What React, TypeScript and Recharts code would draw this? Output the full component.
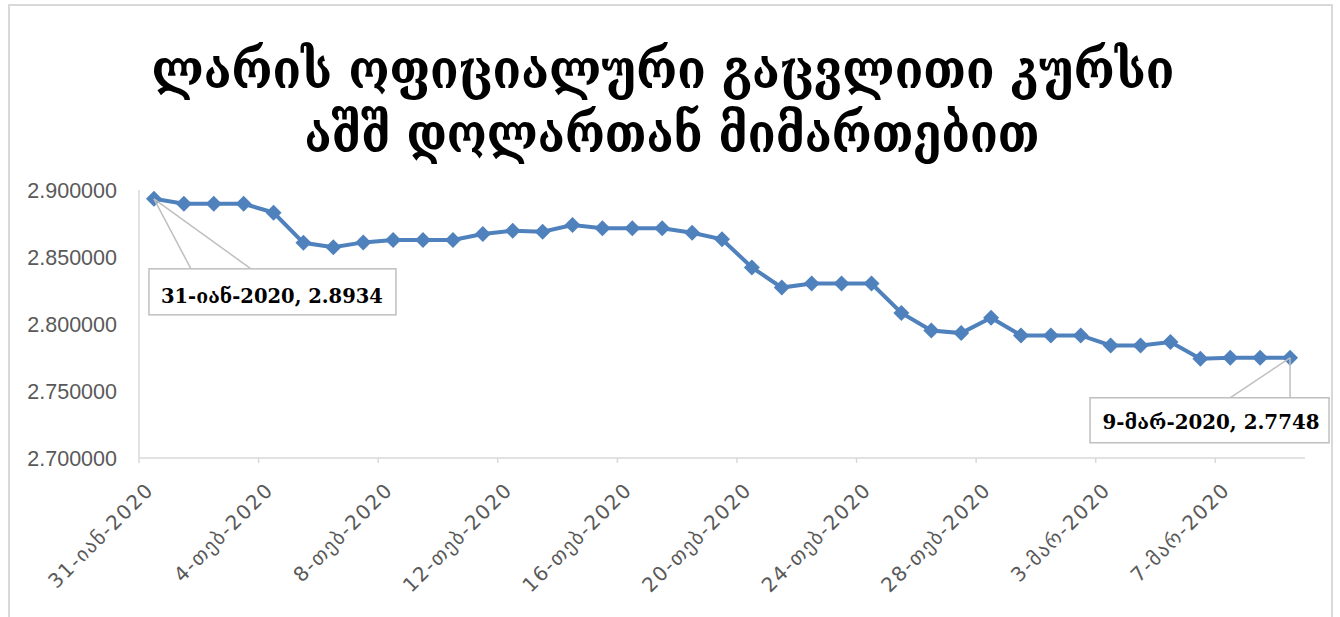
import { LineChart, Line, XAxis, YAxis, LabelList } from "recharts";

const DATES = [
  "31-იან-2020",
  "1-თებ-2020", "2-თებ-2020", "3-თებ-2020", "4-თებ-2020", "5-თებ-2020",
  "6-თებ-2020", "7-თებ-2020", "8-თებ-2020", "9-თებ-2020", "10-თებ-2020",
  "11-თებ-2020", "12-თებ-2020", "13-თებ-2020", "14-თებ-2020", "15-თებ-2020",
  "16-თებ-2020", "17-თებ-2020", "18-თებ-2020", "19-თებ-2020", "20-თებ-2020",
  "21-თებ-2020", "22-თებ-2020", "23-თებ-2020", "24-თებ-2020", "25-თებ-2020",
  "26-თებ-2020", "27-თებ-2020", "28-თებ-2020", "29-თებ-2020",
  "1-მარ-2020", "2-მარ-2020", "3-მარ-2020", "4-მარ-2020", "5-მარ-2020",
  "6-მარ-2020", "7-მარ-2020", "8-მარ-2020", "9-მარ-2020",
];

const RATES = [
  2.8934,
  2.8897, 2.8897, 2.8897, 2.8831, 2.8606,
  2.8573, 2.8609, 2.8627, 2.8627, 2.8627,
  2.8672, 2.8696, 2.8689, 2.8739, 2.8714,
  2.8714, 2.8714, 2.8681, 2.8632, 2.8422,
  2.8272, 2.8302, 2.8302, 2.8302, 2.8082,
  2.7952, 2.7932, 2.8047, 2.7915,
  2.7915, 2.7915, 2.784, 2.784, 2.7865,
  2.774, 2.7748, 2.7748, 2.7748,
];

const Y_TICKS = [2.7, 2.75, 2.8, 2.85, 2.9];
const TITLE_LINES = ["ლარის ოფიციალური გაცვლითი კურსი", "აშშ დოლართან მიმართებით"];

const data = DATES.map((date, i) => ({ date, rate: RATES[i] }));

const W = 1340;
const H = 617;
const MARGIN = { top: 190, right: 35, bottom: 39, left: 8 };
const Y_AXIS_W = 131;
const X_AXIS_H = 120;
const PLOT_W = W - MARGIN.left - Y_AXIS_W - MARGIN.right;
const HALF_STEP = PLOT_W / DATES.length / 2;

const BLUE = "#4f81bd";
const GRID = "#d9d9d9";
const CALLOUT = "#bfbfbf";

function DateTick({ x, y, payload }: any) {
  const tx = x + 1;
  const ty = y + 33;
  return (
    <g>
      <line x1={x - HALF_STEP} x2={x - HALF_STEP} y1={y} y2={y + 5} stroke={GRID} strokeWidth={1.5} />
      <text
        x={tx}
        y={ty}
        transform={`rotate(-45 ${tx} ${ty})`}
        textAnchor="end"
        fill="#595959"
        fontSize={20}
        letterSpacing={1.6}
        fontFamily="'DejaVu Sans', sans-serif"
      >
        {payload.value}
      </text>
    </g>
  );
}

function Diamond({ cx, cy }: any) {
  if (cx == null || cy == null) return null;
  const r = 8;
  return <path d={`M${cx},${cy - r}L${cx + r},${cy}L${cx},${cy + r}L${cx - r},${cy}Z`} fill={BLUE} />;
}

// callout boxes for the first and last point, Excel style
function Callout(props: any) {
  const { index, value } = props;
  if (index !== 0 && index !== DATES.length - 1) return null;
  const px = props.viewBox?.x ?? props.x;
  const py = props.viewBox?.y ?? props.y;
  const first = index === 0;
  const box = first
    ? { dx: -5, dy: 70, w: 247, h: 46, tx: 118, ty: 104, tw: 222 }
    : { dx: -200, dy: 40, w: 239, h: 45, tx: -79, ty: 71, tw: 217 };
  const leads = first ? [37, 97] : [-60, 0];
  return (
    <g>
      {leads.map((lx) => (
        <line key={lx} x1={px} y1={py} x2={px + lx} y2={py + box.dy} stroke={CALLOUT} strokeWidth={1.5} />
      ))}
      <rect x={px + box.dx} y={py + box.dy} width={box.w} height={box.h} fill="#fff" stroke={CALLOUT} strokeWidth={1.5} />
      <text
        x={px + box.tx}
        y={py + box.ty}
        textAnchor="middle"
        fontSize={20}
        fontWeight="bold"
        fill="#000"
        fontFamily="'DejaVu Serif', serif"
        textLength={box.tw}
        lengthAdjust="spacingAndGlyphs"
      >
        {`${DATES[index]}, ${value}`}
      </text>
    </g>
  );
}

export default function App() {
  return (
    <div style={{ position: "absolute", left: 0, top: 0, width: W, height: H, background: "#fff", overflow: "hidden" }}>
      <div
        style={{
          position: "absolute",
          left: 8,
          top: 4,
          width: 1325,
          height: 640,
          border: `2px solid ${GRID}`,
          boxSizing: "border-box",
        }}
      />
      <svg width={W} height={178} style={{ position: "absolute", left: 0, top: 0 }}>
        <text
          x={663}
          y={88}
          textAnchor="middle"
          fontSize={53}
          fontWeight="bold"
          fontFamily="'DejaVu Serif', serif"
          textLength={1023}
          lengthAdjust="spacingAndGlyphs"
        >
          {TITLE_LINES[0]}
        </text>
        <text
          x={672}
          y={152}
          textAnchor="middle"
          fontSize={53}
          fontWeight="bold"
          fontFamily="'DejaVu Serif', serif"
          textLength={735}
          lengthAdjust="spacingAndGlyphs"
        >
          {TITLE_LINES[1]}
        </text>
      </svg>
      <div style={{ position: "absolute", left: 0, top: 0 }}>
        <LineChart width={W} height={H} data={data} margin={MARGIN}>
          <XAxis
            dataKey="date"
            interval={3}
            height={X_AXIS_H}
            padding={{ left: HALF_STEP, right: HALF_STEP }}
            axisLine={{ stroke: GRID, strokeWidth: 1.5 }}
            tickLine={false}
            tickSize={0}
            tickMargin={0}
            tick={<DateTick />}
          />
          <YAxis
            domain={[2.7, 2.9]}
            ticks={Y_TICKS}
            width={Y_AXIS_W}
            axisLine={{ stroke: GRID, strokeWidth: 1.5 }}
            tickLine={false}
            tickSize={0}
            tickMargin={22}
            tickFormatter={(v: number) => v.toFixed(6)}
            tick={{ fill: "#595959", fontSize: 21.5, fontFamily: "'Liberation Sans', sans-serif" }}
          />
          <Line
            type="linear"
            dataKey="rate"
            stroke={BLUE}
            strokeWidth={4}
            dot={<Diamond />}
            activeDot={false}
            isAnimationActive={false}
          >
            <LabelList dataKey="rate" content={<Callout />} />
          </Line>
        </LineChart>
      </div>
    </div>
  );
}
